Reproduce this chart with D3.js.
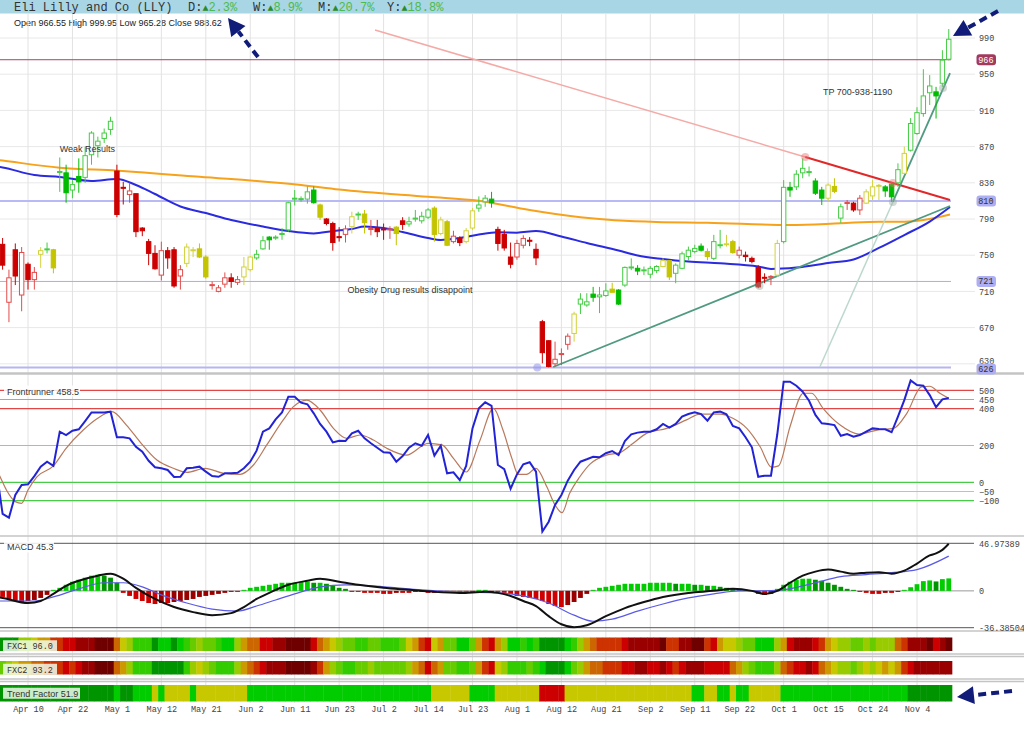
<!DOCTYPE html>
<html><head><meta charset="utf-8">
<script src="https://cdn.jsdelivr.net/npm/d3@7"></script>
<style>body{margin:0;background:#fff}svg{display:block}</style>
</head><body>
<svg id="c" width="1024" height="735"></svg>
<script>
// ---------------- DATA ----------------
const title = "Eli Lilly and Co (LLY)";
const perf = [["D:","2.3%"],["W:","8.9%"],["M:","20.7%"],["Y:","18.8%"]];
const dateLabels = ["Apr 10","Apr 22","May 1","May 12","May 21","Jun 2","Jun 11","Jun 23","Jul 2","Jul 14","Jul 23","Aug 1","Aug 12","Aug 21","Sep 2","Sep 11","Sep 22","Oct 1","Oct 15","Oct 24","Nov 4"];
const dateTickIdx = [4,11,18,25,32,39,46,53,60,67,74,81,88,95,102,109,116,123,130,137,144];
const priceTicks = [990,950,910,870,830,790,750,710,670,630];

const open  = [762,698,756,706,740,723,751,756,756,842, 841,822,837,836,861,871,879,889,843,825, 817,818,780,765,752,728,755,756,727,741, 755,757,748,717,710,718,725,720,726,734, 747,757,770,769.5,773,778,812.5,812,812,822, 805.5,790,785,770.5,773,781.5,795,795.5,779,780, 779,778.5,781,788,784.5,790.5,788,792,802,774, 787,765,769,765,780,802,809,812,778.5,773, 748,748,761,766.5,756.5,676.5,655.5,630,641,651.5, 663.5,696,695,707,704,705.5,712.5,711.5,717,736.5, 735.5,733.5,729,733,737.5,744,730,735.5,748.5,754, 760,754,746.5,761.3,762.4,765,750,750,746.5,736.5, 725.6,726.4,728,765,825,825.5,841,842.2,832,822, 813,826,791,808,807.5,800,807.5,815.5,827,825.5, 828.5,830,840.5,866,884.5,906.5,929.5,930.5,940,966.55];
const high  = [769,734,763,759,742,737,759,764,757,858, 850,833,857,870,887,881,890,903,850,831, 830,818,781,768,761,765,759,759,739,763, 759,763,750,721,717,731,730,727,748,749, 756,771,771,772,780,809,822,815,826,826, 807,791,787,781,783,798,798,800,789,789, 785,782,782,792,792.5,800,798,802,804,792.5, 789,777,771,780,802,815,816.5,820,781.5,778, 764,767,772,770,763,678.5,656,654.5,647,663.5, 687.5,708,708,715,715,719,719.5,712.5,737.5,746.5, 739,737.5,738,739,746.5,744.5,741,754,759.5,761.5, 763,757.5,772.5,778,772.5,767,759.5,754,748.5,739, 730,728,767,833,831,844,857,848,835,825.5, 829.5,835,807,811,809,816.5,823,833,828.7,827.5, 831,851.5,870,901.5,913.5,955.5,949,936,976.5,999.95];
const low   = [734,676,717,688,712,712,736,752,730,820, 808,813,819,830,850,858,874,883,792,806, 808,770,771,739,734,722,735,714,712,737, 748,747,724,712,709,714,714,717,717,732, 745,756,756,767,767,776,805,809,807,807, 789,783,755,765,764,774,789,774,772,770, 767,768,761,778,781.5,787,785,790,765,772, 760,763,760,763,778,798,803.5,802.5,755,755, 735.5,745,757.5,760,739,630.5,626,627,628.5,645.5, 654.5,685,693,698.5,686,704,709,695,715,733.5, 728,728,724.5,730,736.5,722.5,719,734.5,744.5,752, 754,744.5,744.5,757.5,759.5,751.5,746.5,743,741,713.5, 719,717,726,763,814.5,822,835,837,816.5,805.5, 809,818.5,785.5,800,798,794.5,806.5,811,811,814.5, 809,825.5,839.5,864.5,883,903,916,901,936,965.28];
const close = [739,725,727,753,723,731,755,757,736,842.5, 819,828,831,860,885,876,885,898,795,824, 821,776,777,752,735,755,747,716,734,759, 756,748,726,717.5,714,725,721,723,737,748, 751,766,767,770,774,808,813,812.5,820,808, 792,785,764,770,779,792.5,795.5,786,779.5,776, 778.5,779,774,784,787,791,793,800,773,789, 761,771,764,777,799,805.5,813,808,763,758, 740,763,768.5,766,747,642.3,627,635,641.3,660.5, 685,701.5,698.5,703.5,706,710.5,709,696,736.5,737, 732.5,733.8,735.5,737.5,744,726,739,751.5,755.5,757.5, 755.5,748.5,765,761.6,762.6,753,755.5,748.5,743,715, 725.4,726.6,763,825,822,839.5,846,842.4,818.5,813, 827.5,820.5,803.5,808.2,800,813,820,825.5,827.2,821, 814.5,844.5,862.5,895.5,907.5,926,937,926,965.5,988.62];
const candleTone = "rrrrrrygygggggggggrrrrrrrrrrryyyyrrrrryyggggggggggyrrrrygyrrrryrggggyyyrryygggrrrrrrrrrrrrygggggygggggggyygggggyggyyrrrrrrygggggggyygrrryyygggygggggggggg".split("");

// moving averages [candle index, price]
const ma50 = [[-1,848],[0,846.9],[5,838.6],[9,836.4],[14,832],[18,834.2],[21,827.6],[24,817.6],[28,803.8],[32,796.6],[36,788.9],[41,781.7],[45,776.7],[49,774],[52,776.7],[55,778.9],[57,781.7],[60,780],[63,775.6],[67,769],[69,766.8],[72,769],[75,772.9],[78,775.3],[81,774.9],[84,776.7],[88,770.7],[92,763.5],[97,755.2],[100,749.7],[104,745.8],[108,743],[113,741],[119,737.5],[121,734.8],[125,736.4],[130,741.4],[134,745.3],[138,758],[142,772.3],[146,787.2],[149.2,803.3]];
const ma200 = [[-1,855.5],[0,854.6],[9,846.7],[18,843.4],[31,836.7],[47,827.6],[53,822.6],[67,814.6],[75,810.2],[83,800],[91,791.9],[103,786.7],[111,785.9],[124,783.4],[132,785.3],[138,787],[142,787],[149.2,795]];

// horizontal price levels
const levels = [{v:966,line:"#a34766",box:"#a33a5c",txt:"#fff",w:1},{v:810,line:"#b9b9f4",box:"#aeaef4",txt:"#333",w:2},{v:721,line:"#aaaaf0",box:"#aeaef4",txt:"#333",w:1},{v:626,line:"#b5b5f2",box:"#aeaef4",txt:"#333",w:2}];

// trend lines: [index, price]
const resistFaded = [[58.65,998.8],[126.4,858.5]];
const resistLine  = [[126.4,858.5],[149.2,811]];
const supportLine = [[86.7,626.5],[149.2,804.4]];
const steepFaded  = [[128.7,626.5],[140.2,808.8]];
const steepLine   = [[140.2,808.8],[149.2,951.3]];
const anchors = [{p:[126.4,858.5],c:"rgba(235,110,110,0.45)"},{p:[140.2,829.8],c:"rgba(235,110,110,0.45)"},{p:[119.2,716],c:"rgba(150,170,160,0.45)"},{p:[140.2,808.8],c:"rgba(150,170,160,0.45)"},{p:[148.1,934.8],c:"rgba(150,170,160,0.45)"},{p:[84.2,626],c:"rgba(150,150,235,0.55)"}];

const notes = [{t:"Weak Results",i:9,p:864},{t:"Obesity Drug results disappoint",i:54.3,p:708.5},{t:"TP 700-938-1190",i:129.2,p:926.5}];

// Frontrunner oscillator (index -1 .. 149)
const osc = [70,-172,-192,-69,-15,-11,34,85,112,89,275, 257,280,288,333,380,380,380,384,245,245, 239,193,166,117,82,76,67,29,30,76, 79,85,58,34,30,49,49,52,76,112, 172,275,293,342,380,465,465,433,424,375, 317,275,217,226,224,266,280,239,212,188, 163,161,112,143,188,212,199,257,145,199, 49,54,12,89,293,402,435,416,94,71, -35,43,98,109,58,-268,-214,-123,-69,9, 67,112,125,139,136,158,170,148,224,261, 270,275,275,288,317,297,317,357,371,380, 371,335,380,384,370,306,293,245,190,30, 36,36,261,547,547,525,492,443,366,321, 317,311,253,262,248,257,275,293,290,288, 272,357,447,554,529,525,474,408,451,458.5];
const oscSignal = [[-1,70],[-0.4,30],[0.6,-42],[2,-105],[3,-114],[4,-42],[5.4,30],[8,89],[10,185],[12.7,284],[14.8,344],[17.2,384],[19.5,311],[21.6,221],[24.3,121],[26.9,76],[29,54],[31.9,76],[34.8,49],[37.4,43],[39.5,94],[41.6,203],[44.2,339],[45.8,411],[47.9,447],[50,393],[52.1,293],[54.2,239],[56.3,257],[58.4,230],[60.5,185],[63.6,148],[67,212],[69.2,203],[71,130],[73,56],[75.2,230],[77.3,402],[78.8,284],[80.2,130],[81.2,43],[82.5,43],[84,76],[85.7,-24],[87,-123],[88.1,-165],[89.3,-60],[90.9,30],[92.5,99],[95.1,148],[97.2,161],[99.3,212],[101.4,266],[104.6,293],[107.7,339],[109.8,371],[113,371],[115,348],[117.2,293],[119.3,193],[121.1,82],[122.2,89],[124,302],[126.1,484],[127.4,484],[129.2,402],[131.9,311],[134.8,262],[137.7,284],[140.3,293],[142.4,375],[144.7,519],[146,522],[147.6,484],[149,457]];
const oscLevels = [{v:500,c:"#e04848"},{v:450,c:"#ec8a8a"},{v:400,c:"#e04848"},{v:200,c:"#e2b448"},{v:0,c:"#48cc48"},{v:-50,c:"#90e090"},{v:-100,c:"#48cc48"}];

// MACD
const macdLine = [[-1,-6],[0,-7],[4,-12],[6,-10],[8,-3],[10,5],[12,10],[15,15],[17,17],[19,12],[21,3],[24,-8],[27,-16],[30,-21],[33,-24],[36,-22],[38,-16],[40,-8],[42,-2],[45,6],[48,10],[50,12],[53,9],[56,6],[60,3],[64,1],[68,-1],[72,-2],[76,-1],[78,-2],[80,-5],[82,-10],[84,-15],[86,-25],[88,-33],[90,-36],[92,-34],[95,-25],[98,-17],[101,-11],[104,-6],[108,-2],[112,0],[115,2],[118,0],[120,-3],[122,0],[124,8],[126,15],[128,19],[130,21],[132,19],[134,17],[136,18],[138,18.5],[140,17],[142,20],[144,27],[146,35],[147,37],[148,40.5],[149,46.5]];
const macdSignal = [[-1,-10],[0,-10],[5,-10],[8,-6],[12,2],[16,8],[19,8],[22,4],[25,-4],[29,-12],[33,-18],[37,-20],[40,-15],[43,-9],[46,-3],[50,4],[54,6],[60,4],[66,1],[72,-1],[78,-2],[82,-5],[86,-12],[90,-24],[93,-30],[96,-28],[100,-20],[104,-13],[108,-7],[112,-3],[116,0],[120,0],[124,2],[128,8],[132,14],[136,16],[140,18],[144,21],[149,34.3]];
const macdHist = [-6,-8,-10,-11,-10,-9,-7,-4,1,3, 6,9,11,13,15,16,15,13,8,-2, -5,-8,-10,-12,-13,-12,-12,-11,-10,-9, -8,-6,-5,-4,-3,-2,-1,-1,1,3, 4,5,6,7,8,8,8,9,9,8, 8,7,5,3,2,-1,-1,-2,-2,-2, -3,-3,-2,-2,-2,-1,-1,-2,-2,-2, -2,-2,-1,-1,-1,1,1,-1,-1,-2, -3,-5,-6,-7,-8,-10,-13,-15,-16,-14, -11,-7,-3,1,3,4,5,6,7,7, 7,7,8,8,8,8,7,7,7,6, 6,5,5,4,3,2,1,1,0.5,-3, -4,-3,2,6,9,11,12,12,11,10, 8,6,4,2,1,-1,-2,-3,-3,-2, -2,-1,1,3.6,6.6,9.6,10.3,9.3,11.6,12.3];
const macdBounds = [46.97389,0,-36.38504];

// heat strips (0 = deep red ... 11 = deep green)
const fxc1 = [11,11,11,7,7,6,5,5,3,3, 2,2,1,1,1,0,0,0,4,6, 7,9,9,9,11,10,10,11,10,9, 8,7,8,8,9,10,10,7,5,4, 4,2,2,1,1,0,0,0,0,2, 4,5,6,7,8,8,9,9,8,8, 9,9,9,8,6,5,3,2,6,5, 8,8,10,10,8,5,3,2,5,7, 10,10,9,10,9,11,11,11,11,10, 9,7,5,4,3,3,3,3,2,1, 1,1,1,1,0,3,3,1,1,0, 0,3,2,5,6,6,7,8,8,10, 10,10,7,5,2,1,1,1,2,3, 5,6,7,7,8,8,7,8,7,7, 7,4,3,1,1,1,0,2,1,0];
const fxc2 = [8,7,6,5,5,4,4,3,3,3, 2,3,2,1,1,0,0,0,4,5, 7,9,9,9,11,11,11,11,11,9, 7,6,7,8,9,9,9,7,5,4, 3,2,1,1,1,0,0,0,0,1, 3,5,7,8,9,9,8,8,7,8, 8,8,8,8,7,5,4,2,4,5, 8,8,9,9,8,5,3,2,6,7, 9,9,9,8,9,10,11,11,11,10, 8,7,5,4,4,3,3,3,2,2, 1,1,2,2,1,2,3,2,1,1, 1,2,2,2,2,4,5,7,8,9, 9,9,7,4,3,2,2,1,2,4, 5,6,7,7,8,7,6,7,6,5, 6,5,3,2,1,1,1,1,1,1];
const trendFactor = ["DDDDDDDDDDDDDDDDDD","G","DD","GGG","Y","G","YYYY","G","YYYYYYYY","GGGGGGGGGGGGGGGGGGGGGGGGGGGGG","YYYYYY","GGGG","YYYYYYY","RRRR","YYYYYYYYYYYYYYYYYYYY","GG","YY","GG","Y","GG","YYYYY","GGGGGGGGGGGGGGGGGGGG","DDDDDDD"].join("").split("");
const stripLabels = [{t:"FXC1 96.0",mono:true},{t:"FXC2 93.2",mono:true},{t:"Trend Factor 51.9",mono:false}];
const oscTitle = "Frontrunner 458.5", macdTitle = "MACD 45.3";

// ---------------- DRAW ----------------
const svg = d3.select("#c");
const mono = '"Liberation Mono","DejaVu Sans Mono",monospace';
const sans = '"Liberation Sans",Arial,sans-serif';
const x = d3.scaleLinear().domain([0,149]).range([2.6,948.75]);
const step = x(1)-x(0);
const yP = d3.scaleLinear().domain([630,990]).range([363.8,38]);
const yO = d3.scaleLinear().domain([-100,500]).range([500.7,390.3]);
const yM = d3.scaleLinear().domain([-36.38504,46.97389]).range([627.7,543.3]);
const heat = d3.scaleOrdinal().domain(d3.range(12)).range(["#6e0000","#990000","#cc0000","#cc3300","#cc6600","#cc9900","#c8c800","#99cc00","#66cc00","#33cc00","#00cc00","#009400"]);
const trendColor = d3.scaleOrdinal().domain(["D","G","Y","R"]).range(["#009400","#00cc00","#c8c800","#cc0000"]);

svg.append("rect").attr("width",1024).attr("height",735).attr("fill","#fff");
const defs = svg.append("defs");
function clip(id,y0,y1,x1){defs.append("clipPath").attr("id",id).append("rect").attr("x",0).attr("y",y0).attr("width",x1).attr("height",y1-y0);}
clip("cp",14,372,956); clip("co",374,535,976); clip("cm",537,630,976);

// header
svg.append("rect").attr("x",0).attr("y",0).attr("width",1024).attr("height",13.5).attr("fill","#a9d6e5");
svg.append("text").attr("x",14).attr("y",10.5).style("font-family",mono).style("font-size","12px").attr("fill","#333").text(title);
const perfX = [188,253,318,387];
perf.forEach((p,k)=>{
  const t = svg.append("text").attr("x",perfX[k]).attr("y",10.5).style("font-family",mono).style("font-size","12px");
  t.append("tspan").attr("fill","#333").text(p[0]);
  t.append("tspan").attr("fill","#2a8a2a").style("font-size","10px").text("\u25B2");
  t.append("tspan").attr("fill","#4cba4c").text(p[1]);
});
svg.append("text").attr("x",14).attr("y",26).style("font-family",sans).style("font-size","9px").attr("fill","#222")
  .text(`Open ${open[149]}  High ${high[149]}  Low ${low[149]}  Close ${close[149]}`);

// grids
const grid = svg.append("g");
grid.selectAll(".hg").data(priceTicks).join("line").attr("x1",0).attr("x2",975).attr("y1",d=>yP(d)).attr("y2",d=>yP(d)).attr("stroke","#e8e8e8").attr("stroke-width",1);
grid.selectAll(".vg").data(dateTickIdx).join("line").attr("x1",d=>x(d)).attr("x2",d=>x(d)).attr("y1",14).attr("y2",703).attr("stroke","#e2e2e2").attr("stroke-width",1);

// panel separators
[373.5,536,631,654,656.5,679,681.5].forEach(y=>svg.append("line").attr("x1",0).attr("x2",1024).attr("y1",y).attr("y2",y).attr("stroke","#c4c4c4").attr("stroke-width",y===373.5?2.5:1.5));

// ---- price panel ----
const pp = svg.append("g").attr("clip-path","url(#cp)");
levels.forEach(l=>pp.append("line").attr("x1",0).attr("x2",951).attr("y1",yP(l.v)).attr("y2",yP(l.v)).attr("stroke",l.line).attr("stroke-width",l.w));
const lineP = d3.line().x(d=>x(d[0])).y(d=>yP(d[1]));
pp.append("path").attr("d",lineP.curve(d3.curveMonotoneX)(ma200)).attr("fill","none").attr("stroke","#f7a21b").attr("stroke-width",2);
pp.append("path").attr("d",lineP.curve(d3.curveMonotoneX)(ma50)).attr("fill","none").attr("stroke","#2a2ae0").attr("stroke-width",2);
const lineS = d3.line().x(d=>x(d[0])).y(d=>yP(d[1]));
pp.append("path").attr("d",lineS(resistFaded)).attr("stroke","#f4aaa6").attr("stroke-width",1.5).attr("fill","none");
pp.append("path").attr("d",lineS(resistLine)).attr("stroke","#e02828").attr("stroke-width",2).attr("fill","none");
pp.append("path").attr("d",lineS(supportLine)).attr("stroke","#4f9a80").attr("stroke-width",1.8).attr("fill","none");
pp.append("path").attr("d",lineS(steepFaded)).attr("stroke","#bcd8cd").attr("stroke-width",1.5).attr("fill","none");
pp.append("path").attr("d",lineS(steepLine)).attr("stroke","#4f9a80").attr("stroke-width",1.8).attr("fill","none");

const tone = {r:{f:"#cc0000",l:"#e24c4c"},g:{f:"#00bb00",l:"#44cc44"},y:{f:"#c4c400",l:"#d2d23c"}};
const idx = d3.range(150);
const cg = pp.append("g");
cg.selectAll(".w").data(idx).join("line").attr("x1",i=>x(i)).attr("x2",i=>x(i)).attr("y1",i=>yP(high[i])).attr("y2",i=>yP(low[i]))
  .attr("stroke",i=>close[i]<open[i]?tone[candleTone[i]].f:tone[candleTone[i]].l).attr("stroke-width",1);
cg.selectAll(".b").data(idx).join("rect")
  .attr("x",i=>x(i)-2.2).attr("width",4.4)
  .attr("y",i=>yP(Math.max(open[i],close[i])))
  .attr("height",i=>Math.max(1,yP(Math.min(open[i],close[i]))-yP(Math.max(open[i],close[i]))))
  .attr("fill",i=>close[i]<open[i]?tone[candleTone[i]].f:"#fff")
  .attr("stroke",i=>close[i]<open[i]?tone[candleTone[i]].f:tone[candleTone[i]].l).attr("stroke-width",1);
pp.selectAll(".an").data(anchors).join("circle").attr("cx",d=>x(d.p[0])).attr("cy",d=>yP(d.p[1])).attr("r",4).attr("fill",d=>d.c);
svg.selectAll(".nt").data(notes).join("text").attr("x",d=>x(d.i)).attr("y",d=>yP(d.p)).style("font-family",sans).style("font-size","9px").attr("fill","#333").text(d=>d.t);

// price axis
const axP = svg.append("g").attr("transform","translate(976,0)").call(d3.axisRight(yP).tickValues(priceTicks).tickSize(0).tickPadding(3));
axP.select(".domain").remove();
axP.selectAll("text").style("font-family",mono).style("font-size","8.5px").attr("fill","#444");
axP.selectAll(".tick").filter(d=>d===630).select("text").attr("dy","-0.05em");
levels.forEach(l=>{
  svg.append("rect").attr("x",976.5).attr("y",yP(l.v)-5.5+(l.v===626?1.5:0)).attr("width",19.5).attr("height",11).attr("rx",3).attr("fill",l.box);
  svg.append("text").attr("x",978.2).attr("y",yP(l.v)+3+(l.v===626?1.5:0)).style("font-family",mono).style("font-size","8.5px").attr("fill",l.txt).text(l.v);
});

// ---- oscillator panel ----
const po = svg.append("g").attr("clip-path","url(#co)");
oscLevels.forEach(l=>po.append("line").attr("x1",0).attr("x2",974).attr("y1",yO(l.v)).attr("y2",yO(l.v)).attr("stroke",l.c).attr("stroke-width",1.2));
po.append("path").attr("d",d3.line().x(d=>x(d[0])).y(d=>yO(d[1])).curve(d3.curveMonotoneX)(oscSignal)).attr("fill","none").attr("stroke","#b8795c").attr("stroke-width",1.2);
po.append("path").attr("d",d3.line().x((d,k)=>x(k-1)).y(d=>yO(d))(osc)).attr("fill","none").attr("stroke","#2323d6").attr("stroke-width",2);
const axO = svg.append("g").attr("transform","translate(976,0)").call(d3.axisRight(yO).tickValues(oscLevels.map(l=>l.v)).tickSize(0).tickPadding(3));
axO.select(".domain").remove();
axO.selectAll("text").style("font-family",mono).style("font-size","8.5px").attr("fill","#444");
svg.append("rect").attr("x",4).attr("y",385.5).attr("width",76).attr("height",11).attr("fill","rgba(255,255,255,0.85)");
svg.append("text").attr("x",7).attr("y",394.5).style("font-family",sans).style("font-size","9px").attr("fill","#333").text(oscTitle);

// ---- MACD panel ----
const pm = svg.append("g").attr("clip-path","url(#cm)");
macdBounds.forEach(v=>pm.append("line").attr("x1",0).attr("x2",974).attr("y1",yM(v)).attr("y2",yM(v)).attr("stroke",v===0?"#9a9a9a":"#555").attr("stroke-width",1));
pm.selectAll(".h").data(idx).join("rect")
  .attr("x",i=>x(i)-2.4).attr("width",4.8)
  .attr("y",i=>yM(Math.max(0,macdHist[i]))).attr("height",i=>Math.abs(yM(macdHist[i])-yM(0)))
  .attr("fill",i=>{const v=macdHist[i],p=i>0?macdHist[i-1]:v; return v>=0?(v>=p?"#00cc00":"#009400"):(v<=p?"#d00000":"#9a0000");});
pm.append("path").attr("d",d3.line().x(d=>x(d[0])).y(d=>yM(d[1])).curve(d3.curveMonotoneX)(macdSignal)).attr("fill","none").attr("stroke","#5a5ae6").attr("stroke-width",1.2);
pm.append("path").attr("d",d3.line().x(d=>x(d[0])).y(d=>yM(d[1])).curve(d3.curveMonotoneX)(macdLine)).attr("fill","none").attr("stroke","#111").attr("stroke-width",2);
const axM = svg.append("g").attr("transform","translate(976,0)").call(d3.axisRight(yM).tickValues(macdBounds).tickFormat(d=>String(d)).tickSize(0).tickPadding(3));
axM.select(".domain").remove();
axM.selectAll("text").style("font-family",mono).style("font-size","8.5px").attr("fill","#444");
svg.append("rect").attr("x",4).attr("y",541.5).attr("width",50).attr("height",11).attr("fill","rgba(255,255,255,0.85)");
svg.append("text").attr("x",7).attr("y",550).style("font-family",sans).style("font-size","9px").attr("fill","#333").text(macdTitle);

// ---- heat strips ----
const strips = [{d:fxc1,c:heat,y:637.5,h:13.5},{d:fxc2,c:heat,y:661,h:13.5},{d:trendFactor,c:trendColor,y:685,h:16.5}];
strips.forEach((s,k)=>{
  svg.append("g").selectAll("rect").data(idx).join("rect").attr("x",i=>x(i)-step/2).attr("width",step+0.4).attr("y",s.y).attr("height",s.h).attr("fill",i=>s.c(s.d[i]));
  const lab = stripLabels[k];
  const w = lab.mono?54:77;
  svg.append("rect").attr("x",3).attr("y",s.y+s.h/2-5.5+ (k===2?0:1.5)).attr("width",w).attr("height",11).attr("fill","rgba(240,250,235,0.85)");
  svg.append("text").attr("x",7).attr("y",s.y+s.h/2+3.5+(k===2?0:1.5)).style("font-family",lab.mono?mono:sans).style("font-size",lab.mono?"8.5px":"9px").attr("fill","#333").text(lab.t);
});

// date axis
const axX = svg.append("g").attr("transform","translate(0,703)").call(d3.axisBottom(x).tickValues(dateTickIdx).tickFormat((d,k)=>dateLabels[k]).tickSize(0).tickPadding(3));
axX.select(".domain").remove();
axX.selectAll("text").style("font-family",mono).style("font-size","8.5px").attr("fill","#444");

// annotation arrows
function arrow(x1,y1,x2,y2){
  const a=Math.atan2(y2-y1,x2-x1), hl=17, hw=9;
  const bx=x2-hl*Math.cos(a), by=y2-hl*Math.sin(a), px=-Math.sin(a), py=Math.cos(a);
  svg.append("line").attr("x1",x1).attr("y1",y1).attr("x2",bx).attr("y2",by).attr("stroke","#101c78").attr("stroke-width",4).attr("stroke-dasharray","8,5");
  svg.append("path").attr("d",`M${x2},${y2}L${bx+px*hw},${by+py*hw}L${bx-px*hw},${by-py*hw}Z`).attr("fill","#101c78");
}
arrow(258,57,228,18);
arrow(998,11,953,36);
arrow(1012,691,957,697);
</script>
</body></html>
